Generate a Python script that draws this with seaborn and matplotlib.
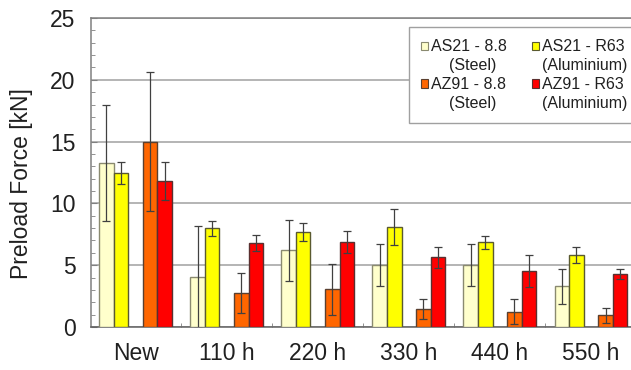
import numpy as np
import pandas as pd
import matplotlib
matplotlib.use("Agg")
import matplotlib.pyplot as plt
from matplotlib.patches import Patch
from matplotlib.ticker import MultipleLocator, FixedLocator
import seaborn as sns

categories = ["New", "110 h", "220 h", "330 h", "440 h", "550 h"]
series = ["AS21 - 8.8", "AS21 - R63", "AZ91 - 8.8", "AZ91 - R63"]
sub_labels = ["(Steel)", "(Aluminium)", "(Steel)", "(Aluminium)"]

as21_88 = [13.3, 4.05, 6.2, 5.05, 5.0, 3.3]
as21_88_err = [4.7, 4.1, 2.45, 1.7, 1.7, 1.4]
as21_r63 = [12.45, 8.0, 7.7, 8.1, 6.85, 5.8]
as21_r63_err = [0.9, 0.6, 0.75, 1.45, 0.55, 0.65]
az91_88 = [15.0, 2.75, 3.05, 1.45, 1.25, 0.95]
az91_88_err = [5.6, 1.6, 2.05, 0.8, 1.0, 0.6]
az91_r63 = [11.8, 6.8, 6.85, 5.65, 4.5, 4.3]
az91_r63_err = [1.55, 0.65, 0.9, 0.85, 1.3, 0.4]

colors = ["#FFFFCC", "#FFFF00", "#FF6600", "#FF0000"]
edges = ["#8a8a70", "#5a5a30", "#5a4030", "#5a3030"]

values = [as21_88, as21_r63, az91_88, az91_r63]
errors = [as21_88_err, as21_r63_err, az91_88_err, az91_r63_err]

SPACER = " "
rows = []
for s, vals in zip(series, values):
    for c, v in zip(categories, vals):
        rows.append({"cat": c, "series": s, "val": v})
for c in categories:
    rows.append({"cat": c, "series": SPACER, "val": np.nan})
df = pd.DataFrame(rows)

sns.set_style("white")
plt.rcParams["font.family"] = ["Liberation Sans", "DejaVu Sans"]

fig = plt.figure(figsize=(6.31, 3.70), dpi=100)
ax = fig.add_axes([91 / 631, 1 - 327 / 370, 1 - 91 / 631, (327 - 18) / 370])

hue_order = [series[0], series[1], SPACER, series[2], series[3]]
palette = {series[0]: colors[0], series[1]: colors[1], SPACER: "white",
           series[2]: colors[2], series[3]: colors[3]}
sns.barplot(data=df, x="cat", y="val", hue="series", hue_order=hue_order,
            order=categories, palette=palette, width=0.8, errorbar=None,
            saturation=1, legend=False, ax=ax, zorder=3)

slot = 0.8 / 5
slot_to_series = {-2: 0, -1: 1, 1: 2, 2: 3}
for p in ax.patches:
    h = p.get_height()
    if h is None or not np.isfinite(h):
        continue
    xc = p.get_x() + p.get_width() / 2
    ci = int(round(xc))
    si = int(round((xc - ci) / slot))
    if si not in slot_to_series:
        continue
    k = slot_to_series[si]
    p.set_edgecolor(edges[k])
    p.set_linewidth(1.0)
    ax.errorbar(xc, values[k][ci], yerr=errors[k][ci], fmt="none",
                ecolor="#404040", elinewidth=0.9, capsize=3, capthick=0.9,
                zorder=4)

ax.set_ylim(0, 25)
ax.set_xlim(-0.49, 5.44)
ax.yaxis.set_major_locator(MultipleLocator(5))
ax.yaxis.set_minor_locator(MultipleLocator(1))
ax.xaxis.set_minor_locator(FixedLocator([0.5 + i for i in range(6)]))
ax.grid(axis="y", color="#a0a0a0", linewidth=1.1, zorder=0)
ax.set_axisbelow(True)

for side in ["left", "top", "bottom"]:
    ax.spines[side].set_visible(True)
    ax.spines[side].set_color("#808080")
    ax.spines[side].set_linewidth(1.1)
ax.spines["bottom"].set_color("#606060")
ax.spines["right"].set_visible(False)

ax.tick_params(axis="y", which="major", direction="in", length=4, color="#808080",
               labelsize=16.5, pad=11, left=True, labelcolor="#202020")
ax.tick_params(axis="y", which="minor", direction="in", length=3, color="#808080",
               left=True)
ax.tick_params(axis="x", which="major", length=0, labelsize=16.5, pad=11,
               labelcolor="#202020")
ax.tick_params(axis="x", which="minor", direction="in", length=3, color="#808080",
               bottom=True)

ax.set_xlabel("")
ax.set_ylabel("Preload Force [kN]", fontsize=16.5, color="#202020")
ax.yaxis.set_label_coords(-0.107, 0.464)

blank = Patch(facecolor="none", edgecolor="none")
handles, labels = [], []
for k in [0, 2, 1, 3]:
    handles.append(Patch(facecolor=colors[k], edgecolor=edges[k], linewidth=0.8))
    labels.append(series[k])
    handles.append(blank)
    pad = "    " if "Steel" in sub_labels[k] else ""
    labels.append(pad + sub_labels[k])

leg = fig.legend(handles, labels, ncol=2, loc="upper left",
                 bbox_to_anchor=(409 / 631, 1 - 27 / 370),
                 fontsize=11.5, frameon=True, fancybox=False,
                 edgecolor="#a0a0a0", framealpha=1, labelspacing=0.24,
                 handlelength=0.44, handleheight=0.44, handletextpad=0.15,
                 columnspacing=1.6, borderpad=0.78, borderaxespad=0)
leg.get_frame().set_linewidth(1.0)
for t in leg.get_texts():
    t.set_color("#202020")

fig.savefig("out.png", dpi=100)
